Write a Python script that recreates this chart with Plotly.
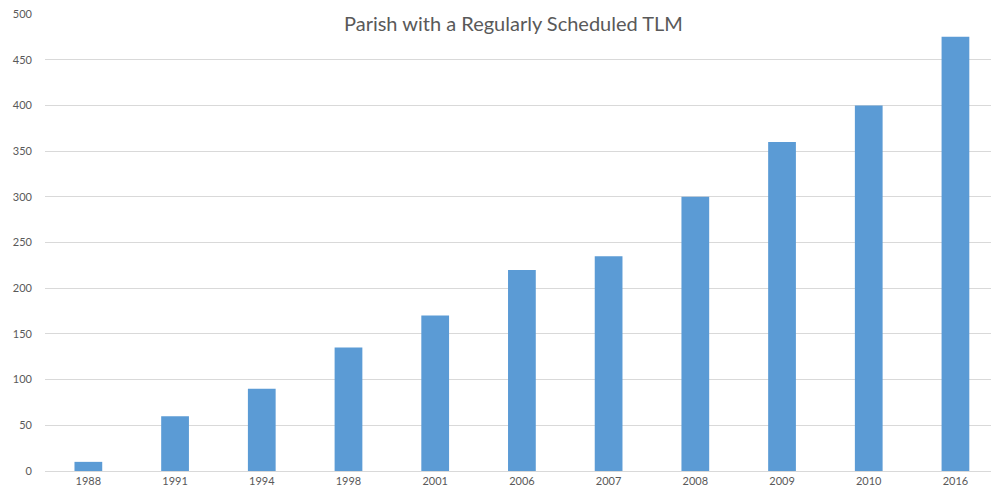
import plotly.graph_objects as go

# Parishes offering a regularly scheduled Traditional Latin Mass, by year
years = ["1988", "1991", "1994", "1998", "2001", "2006", "2007", "2008", "2009", "2010", "2016"]
parishes = [10, 60, 90, 135, 170, 220, 235, 300, 360, 400, 475]

bar_color = "#5b9bd5"
text_gray = "#595959"
grid_gray = "#d9d9d9"

# plot area in pixels
left, top, bottom = 45, 14, 17
plot_w = 991 - left
plot_h = 488 - top - bottom

fig = go.Figure(
    go.Bar(
        x=years,
        y=parishes,
        marker=dict(color=bar_color, line=dict(width=0)),
    )
)

fig.update_layout(
    width=991,
    height=488,
    margin=dict(l=left, r=0, t=top, b=bottom),
    paper_bgcolor="white",
    plot_bgcolor="white",
    bargap=0.68,
    showlegend=False,
    font=dict(family="Lato, Open Sans, sans-serif", color=text_gray, size=11),
    annotations=[
        dict(
            text="Parish with a Regularly Scheduled TLM",
            x=(513 - left) / plot_w,
            y=1 - (23 - top) / plot_h,
            xref="paper", yref="paper",
            xanchor="center", yanchor="middle",
            showarrow=False,
            font=dict(size=20, color=text_gray),
        )
    ],
)

fig.update_xaxes(
    type="category",
    range=[-0.5, 10.41],
    showgrid=False,
    showline=True,
    linecolor=grid_gray,
    linewidth=1,
    ticks="",
    tickfont=dict(size=11, color=text_gray),
)
fig.update_yaxes(
    range=[0, 500],
    dtick=50,
    showgrid=True,
    gridcolor=grid_gray,
    gridwidth=1,
    zeroline=False,
    showline=False,
    ticks="",
    ticklabelstandoff=12,
    tickfont=dict(size=11, color=text_gray),
)

fig.write_html("out.html")
